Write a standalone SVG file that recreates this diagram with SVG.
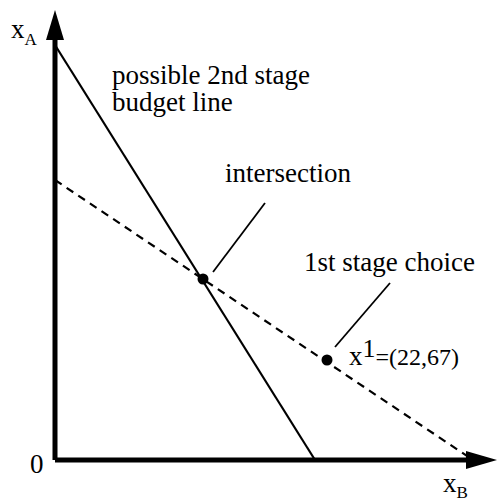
<svg xmlns="http://www.w3.org/2000/svg" width="499" height="502" viewBox="0 0 499 502">
<style>
text{font-family:"Liberation Serif","Times New Roman",Times,serif;font-size:27px;fill:#000}
.ax{stroke:#000;stroke-width:5;fill:none}
.ln{stroke:#000;stroke-width:2.2;fill:none}
.ld{stroke:#000;stroke-width:1.8;fill:none}
.dash{stroke:#000;stroke-width:2.2;fill:none;stroke-dasharray:8,6}
</style>
<rect width="499" height="502" fill="#fff"/>
<g id="axes">
<path class="ax" d="M55,460 V36 M55,460 H470"/>
<polygon points="55,10 46,40 64,40"/>
<polygon points="497,460 466,451 466,469"/>
</g>
<g id="connectors">
<path class="ln" d="M55,45 L315,460"/>
<path class="dash" d="M55,180 L470,458"/>
<path class="ld" d="M213,272 L265,203"/>
<path class="ld" d="M335,347 L390,283"/>
</g>
<g id="intersection-point"><circle cx="203" cy="279" r="5.5"/></g>
<g id="choice-point"><circle cx="327" cy="360" r="5.5"/></g>
<g id="labels">
<text x="11" y="38" font-size="25">x<tspan font-size="17" dy="7">A</tspan></text>
<text x="30" y="473">0</text>
<text x="443" y="492" font-size="25">x<tspan font-size="17" dy="6">B</tspan></text>
<text x="112" y="84">possible 2nd stage</text>
<text x="112" y="111">budget line</text>
<text x="225" y="182">intersection</text>
<text x="304" y="271">1st stage choice</text>
<text x="349" y="365">x<tspan font-size="26" dy="-8">1</tspan><tspan font-size="24" dy="8">=(22,67)</tspan></text>
</g>
</svg>
